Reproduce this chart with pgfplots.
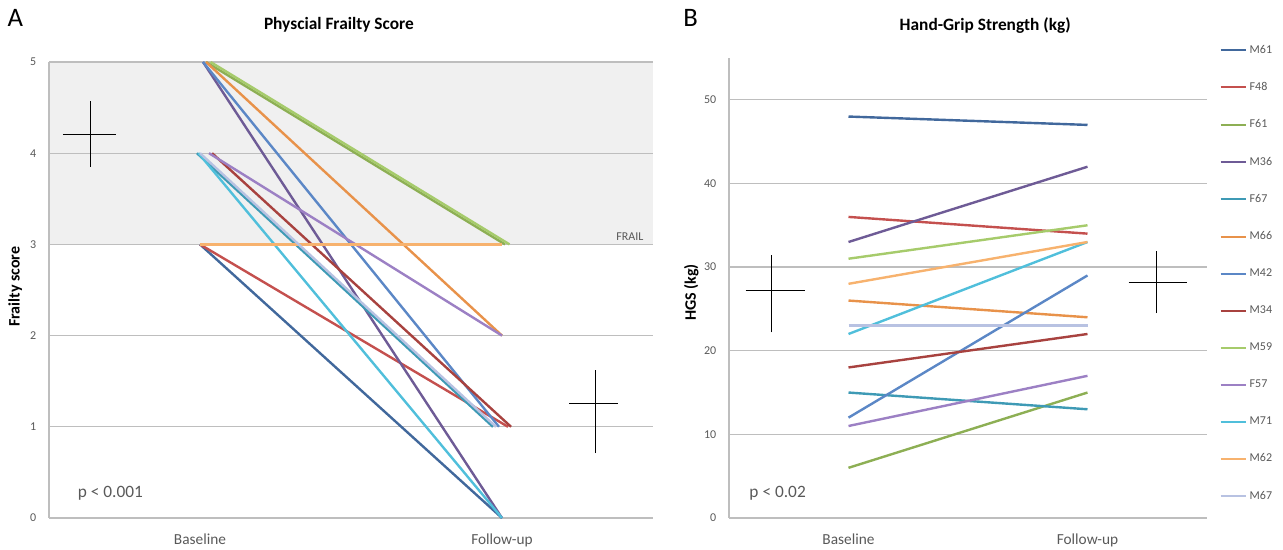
\documentclass[border=0pt]{standalone}
\usepackage{fontspec}
\setmainfont{Carlito}
\usepackage{pgfplots}
\pgfplotsset{compat=1.18}

\definecolor{cMsixone}{HTML}{41689C}
\definecolor{cFfoureight}{HTML}{C4504E}
\definecolor{cFsixone}{HTML}{8DAF54}
\definecolor{cMthreesix}{HTML}{6E5B96}
\definecolor{cFsixseven}{HTML}{3E9AB5}
\definecolor{cMsixsix}{HTML}{E8924A}
\definecolor{cMfourtwo}{HTML}{5B87C6}
\definecolor{cMthreefour}{HTML}{A8423F}
\definecolor{cMfivenine}{HTML}{A6CB6B}
\definecolor{cFfiveseven}{HTML}{9C80C4}
\definecolor{cMsevenone}{HTML}{50BFDB}
\definecolor{cMsixtwo}{HTML}{F7B26E}
\definecolor{cMsixseven}{HTML}{B8C2E2}
\definecolor{gridc}{HTML}{BEBEBE}
\definecolor{bandc}{HTML}{F0F0F0}
\definecolor{txtg}{HTML}{595959}

\pgfplotsset{
  panel/.style={
    scale only axis,
    clip=false,
    xmin=0.5, xmax=2.5,
    xtick={1,2}, xticklabels={Baseline,Follow-up},
    axis x line=bottom, axis y line=left,
    axis line style={gridc, line width=1pt, -},
    major tick length=0pt,
    ymajorgrids, grid style={gridc, line width=1pt},
    xticklabel style={font=\fontsize{11.5}{13}\selectfont, text=txtg, yshift=-8pt},
    yticklabel style={font=\fontsize{9}{10}\selectfont, text=txtg, xshift=-6pt},
    /pgf/number format/assume math mode=true,
    title style={font=\fontsize{13}{15}\selectfont\bfseries, anchor=center},
    ylabel style={font=\fontsize{12}{14}\selectfont\bfseries, rotate=0, anchor=center},
    every axis plot/.append style={line width=1.8pt},
  },
  meanbar/.style={black, line width=0.75pt, forget plot},
  gridbar/.style={gridc, line width=1pt, forget plot},
}

\begin{document}
\begin{tikzpicture}
\path[use as bounding box] (0,0) rectangle (962.25pt,412.5pt);
\node[anchor=center, font=\fontsize{20}{22}\selectfont] at (11.5pt,399pt) {A};
\node[anchor=center, font=\fontsize{20}{22}\selectfont] at (518pt,399pt) {B};

% ---- panel A: frailty score
\begin{axis}[panel,
  at={(36.75pt,24pt)}, anchor=south west,
  width=453pt, height=342pt,
  ymin=0, ymax=5, ytick={0,1,2,3,4,5},
  title={Physcial Frailty Score}, title style={at={(axis description cs:0.48,1.064)}},
  ylabel={Frailty score}, ylabel style={at={(axis description cs:-0.056,0.507)}},
]
% frail zone
\addplot[fill=bandc, draw=none, line width=0pt, forget plot]
  coordinates {(0.5,3) (2.5,3) (2.5,5) (0.5,5)} -- cycle;
\addplot[gridbar] coordinates {(0.5,3) (2.5,3)};
\addplot[gridbar] coordinates {(0.5,4) (2.5,4)};
\addplot[gridbar] coordinates {(0.5,5) (2.5,5)};
\addplot[gridbar] coordinates {(0.5,3) (0.5,5)};
% participants
\addplot[cMsixone]    coordinates {(1.00,3) (2.00,0)};
\addplot[cFfoureight] coordinates {(1.00,3) (2.02,1)};
\addplot[cFsixone]    coordinates {(1.02,5) (2.01,3)};
\addplot[cMthreesix]  coordinates {(1.01,5) (2.00,0)};
\addplot[cFsixseven]  coordinates {(0.99,4) (1.97,1)};
\addplot[cMsixsix]    coordinates {(1.02,5) (2.00,2)};
\addplot[cMfourtwo]   coordinates {(1.01,5) (1.99,1)};
\addplot[cMthreefour] coordinates {(1.04,4) (2.03,1)};
\addplot[cMfivenine]  coordinates {(1.035,5) (2.025,3)};
\addplot[cFfiveseven] coordinates {(1.03,4) (2.00,2)};
\addplot[cMsevenone]  coordinates {(0.995,4) (2.00,0)};
\addplot[cMsixtwo]    coordinates {(1.00,3) (2.00,3)};
\addplot[cMsixseven]  coordinates {(1.00,4) (1.98,1)};
% means
\addplot[meanbar] coordinates {(0.546,4.2) (0.722,4.2)};
\addplot[meanbar] coordinates {(0.636,3.85) (0.636,4.57)};
\addplot[meanbar] coordinates {(2.222,1.26) (2.384,1.26)};
\addplot[meanbar] coordinates {(2.311,0.71) (2.311,1.62)};
\node[anchor=west, text=txtg, font=\fontsize{13}{15}\selectfont] at (rel axis cs:0.04,0.055) {p < 0.001};
\node[anchor=east, text=txtg, font=\fontsize{9}{10}\selectfont] at (rel axis cs:0.992,0.616) {FRAIL};
\end{axis}

% ---- panel B: hand-grip strength
\begin{axis}[panel,
  at={(546.75pt,24pt)}, anchor=south west,
  width=358.5pt, height=345pt,
  ymin=0, ymax=55, ytick={0,10,20,30,40,50},
  title={Hand-Grip Strength (kg)}, title style={at={(axis description cs:0.536,1.054)}},
  ylabel={HGS (kg)}, ylabel style={at={(axis description cs:-0.079,0.49)}},
  legend style={at={(1.0174,1.0406)}, anchor=north west, draw=none, fill=none,
    font=\fontsize{9}{10}\selectfont, text=txtg, row sep=16.4pt},
  legend cell align=left,
  legend image code/.code={\draw[#1, line width=1.6pt] (0pt,0pt) -- (19pt,0pt);},
]
\addplot[cMsixone]    coordinates {(1,48) (2,47)};  \addlegendentry{M61}
\addplot[cFfoureight] coordinates {(1,36) (2,34)};  \addlegendentry{F48}
\addplot[cFsixone]    coordinates {(1,6) (2,15)};   \addlegendentry{F61}
\addplot[cMthreesix]  coordinates {(1,33) (2,42)};  \addlegendentry{M36}
\addplot[cFsixseven]  coordinates {(1,15) (2,13)};  \addlegendentry{F67}
\addplot[cMsixsix]    coordinates {(1,26) (2,24)};  \addlegendentry{M66}
\addplot[cMfourtwo]   coordinates {(1,12) (2,29)};  \addlegendentry{M42}
\addplot[cMthreefour] coordinates {(1,18) (2,22)};  \addlegendentry{M34}
\addplot[cMfivenine]  coordinates {(1,31) (2,35)};  \addlegendentry{M59}
\addplot[cFfiveseven] coordinates {(1,11) (2,17)};  \addlegendentry{F57}
\addplot[cMsevenone]  coordinates {(1,22) (2,33)};  \addlegendentry{M71}
\addplot[cMsixtwo]    coordinates {(1,28) (2,33)};  \addlegendentry{M62}
\addplot[cMsixseven]  coordinates {(1,23) (2,23)};  \addlegendentry{M67}
% means
\addplot[meanbar] coordinates {(0.570,27.2) (0.816,27.2)};
\addplot[meanbar] coordinates {(0.678,22.2) (0.678,31.5)};
\addplot[meanbar] coordinates {(2.172,28.1) (2.415,28.1)};
\addplot[meanbar] coordinates {(2.287,24.5) (2.287,31.9)};
\node[anchor=west, text=txtg, font=\fontsize{13}{15}\selectfont] at (rel axis cs:0.033,0.054) {p < 0.02};
\end{axis}
\end{tikzpicture}
\end{document}
